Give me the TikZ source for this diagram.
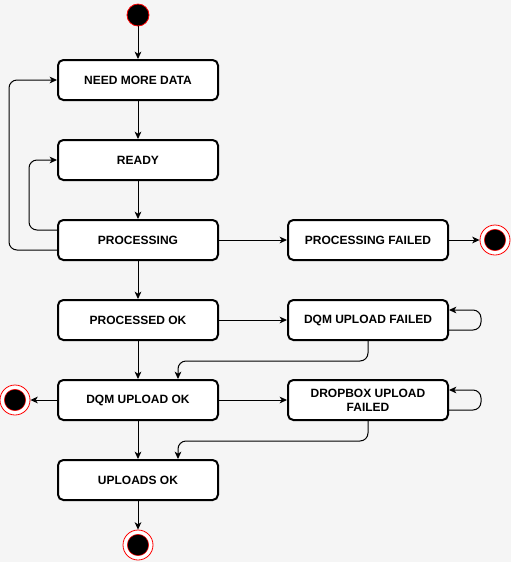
\documentclass[tikz,border=0pt]{standalone}
\usepackage{fontspec}
\setmainfont{Liberation Sans}
\usepackage{xcolor}
\usepackage{tikz}
\usetikzlibrary{positioning}
\usetikzlibrary{arrows.meta}
\definecolor{bggray}{HTML}{F5F5F5}
\tikzset{
    statenode/.style = {rectangle, rounded corners=4pt, draw=black, line width=1.5pt, fill=white, align=center, minimum width=120pt, minimum height=30pt, inner sep=2pt},
    startnode/.style = {circle, draw=red, line width=0.6pt, fill=black, minimum size=16.5pt, inner sep=0pt},
    endnode/.style = {circle, draw=red, line width=0.6pt, fill=white, minimum size=22.5pt, inner sep=0pt},
    endnodei/.style = {circle, draw=red, line width=0.4pt, fill=black, minimum size=16pt, inner sep=0pt},
}
\begin{document}
\begin{tikzpicture}[
	x=0.75pt,
	y=-0.75pt,
	font=\fontsize{9}{10.5}\selectfont\bfseries
]
\tikzset{
    edgen/.style = {-{Stealth[length=5.5pt,width=5pt,inset=1.5pt]}, line width=0.75pt},
    edgel/.style = {edgen, rounded corners=6pt},
}
\fill[bggray] (0,0) rectangle (511,562);
\useasboundingbox (0,0) rectangle (511,562);
%
\node[startnode] at (138,15) (start) {};
\node[statenode] at (138,80) (nmd) {NEED MORE DATA};
\node[statenode] at (138,160) (ready) {READY};
\node[statenode] at (138,240) (proc) {PROCESSING};
\node[statenode] at (138,320) (pok) {PROCESSED OK};
\node[statenode] at (138,400) (dqmok) {DQM UPLOAD OK};
\node[statenode] at (138,480) (upok) {UPLOADS OK};
\node[statenode] at (368,240) (pfail) {PROCESSING FAILED};
\node[statenode] at (368,320) (dqmf) {DQM UPLOAD FAILED};
\node[statenode] at (368,400) (dbf) {DROPBOX UPLOAD\\FAILED};
\node[endnode] at (495,240) (endr) {};
\node[endnodei] at (495,240) (endri) {};
\node[endnode] at (15,400) (endl) {};
\node[endnodei] at (15,400) (endli) {};
\node[endnode] at (138,545) (endb) {};
\node[endnodei] at (138,545) (endbi) {};
%
\draw[edgen] (start) -- (nmd);
\draw[edgen] (nmd) -- (ready);
\draw[edgen] (ready) -- (proc);
\draw[edgen] (proc) -- (pok);
\draw[edgen] (pok) -- (dqmok);
\draw[edgen] (dqmok) -- (upok);
\draw[edgen] (upok) -- (endb);
%
\draw[edgen] (proc) -- (pfail);
\draw[edgen] (pfail) -- (endr);
\draw[edgen] (pok) -- (dqmf);
\draw[edgen] (dqmok) -- (dbf);
\draw[edgen] (dqmok) -- (endl);
%
\draw[edgel] ([yshift=7.5pt]proc.west) -- ++(-28,0) |- (ready.west);
\draw[edgel] ([yshift=-7.5pt]proc.west) -- ++(-48,0) |- (nmd.west);
%
\draw[edgel] ([yshift=-7.5pt]dqmf.east) -- ++(32,0) |- ([yshift=7.5pt]dqmf.east);
\draw[edgel] ([yshift=-7.5pt]dbf.east) -- ++(32,0) |- ([yshift=7.5pt]dbf.east);
%
\draw[edgel] (dqmf.south) -- ++(0,20) -| ([xshift=30pt]dqmok.north);
\draw[edgel] (dbf.south) -- ++(0,20) -| ([xshift=30pt]upok.north);
\end{tikzpicture}
\end{document}
